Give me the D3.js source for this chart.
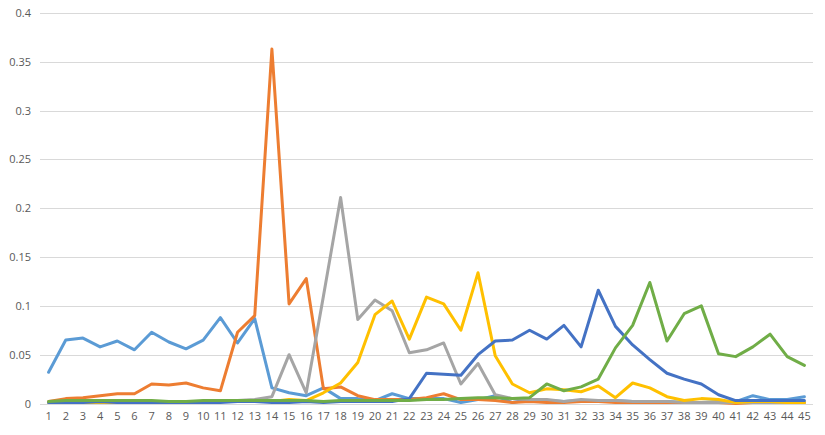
<!DOCTYPE html>
<html>
<head>
<meta charset="utf-8">
<script src="https://cdn.jsdelivr.net/npm/d3@7"></script>
<style>
  body { margin: 0; background: #fff; }
  .tick text { font-family: "Open Sans", "Liberation Sans", sans-serif; font-size: 11px; fill: #595959; }
</style>
</head>
<body>
<div id="chart"></div>
<script>
// chart size + margins
var svgWidth = 825;
var svgHeight = 435;

var margin = { top: 13, right: 12, bottom: 31.5, left: 40 };

var width = svgWidth - margin.left - margin.right;
var height = svgHeight - margin.top - margin.bottom;

// data
var categories = d3.range(1, 46);
var yTicks = [0, 0.05, 0.1, 0.15, 0.2, 0.25, 0.3, 0.35, 0.4];

var lightBlue = [0.032, 0.065, 0.067, 0.058, 0.064, 0.055, 0.073, 0.063, 0.056, 0.065,
  0.088, 0.062, 0.087, 0.016, 0.011, 0.008, 0.016, 0.005, 0.005, 0.003,
  0.010, 0.005, 0.005, 0.005, 0.001, 0.004, 0.008, 0.001, 0.004, 0.003,
  0.002, 0.003, 0.003, 0.003, 0.002, 0.002, 0.002, 0.001, 0.001, 0.002,
  0.002, 0.008, 0.004, 0.004, 0.007];
var orange = [0.002, 0.005, 0.006, 0.008, 0.010, 0.010, 0.020, 0.019, 0.021, 0.016,
  0.013, 0.073, 0.090, 0.363, 0.102, 0.128, 0.015, 0.017, 0.008, 0.004,
  0.004, 0.004, 0.006, 0.010, 0.004, 0.004, 0.003, 0.001, 0.002, 0.001,
  0.001, 0.002, 0.002, 0.001, 0.001, 0.001, 0.001, 0.001, 0.001, 0.001,
  0.000, 0.001, 0.001, 0.001, 0.001];
var gray = [0.001, 0.001, 0.001, 0.001, 0.001, 0.001, 0.001, 0.001, 0.002, 0.002,
  0.003, 0.003, 0.004, 0.007, 0.050, 0.011, 0.110, 0.211, 0.086, 0.106,
  0.095, 0.052, 0.055, 0.062, 0.020, 0.041, 0.009, 0.005, 0.004, 0.004,
  0.002, 0.004, 0.003, 0.003, 0.002, 0.002, 0.002, 0.001, 0.001, 0.001,
  0.001, 0.001, 0.001, 0.001, 0.001];
var yellow = [0.001, 0.001, 0.001, 0.001, 0.001, 0.001, 0.001, 0.002, 0.002, 0.002,
  0.002, 0.002, 0.002, 0.002, 0.004, 0.003, 0.011, 0.021, 0.042, 0.091,
  0.105, 0.066, 0.109, 0.102, 0.075, 0.134, 0.049, 0.020, 0.011, 0.015,
  0.014, 0.012, 0.018, 0.006, 0.021, 0.016, 0.007, 0.003, 0.005, 0.004,
  0.001, 0.002, 0.002, 0.001, 0.001];
var darkBlue = [0.001, 0.001, 0.001, 0.002, 0.001, 0.001, 0.001, 0.001, 0.001, 0.001,
  0.001, 0.002, 0.002, 0.001, 0.001, 0.002, 0.001, 0.002, 0.002, 0.002,
  0.002, 0.005, 0.031, 0.030, 0.029, 0.050, 0.064, 0.065, 0.075, 0.066,
  0.080, 0.058, 0.116, 0.079, 0.060, 0.045, 0.031, 0.025, 0.020, 0.009,
  0.003, 0.003, 0.003, 0.003, 0.003];
var green = [0.002, 0.003, 0.003, 0.003, 0.003, 0.003, 0.003, 0.002, 0.002, 0.003,
  0.003, 0.003, 0.003, 0.003, 0.003, 0.003, 0.002, 0.003, 0.003, 0.003,
  0.003, 0.003, 0.004, 0.004, 0.005, 0.006, 0.006, 0.005, 0.006, 0.020,
  0.013, 0.017, 0.025, 0.057, 0.080, 0.124, 0.064, 0.092, 0.100, 0.051,
  0.048, 0.058, 0.071, 0.048, 0.039];

var seriesList = [
  { name: "s1", values: lightBlue, color: "#5B9BD5" },
  { name: "s2", values: orange, color: "#ED7D31" },
  { name: "s3", values: gray, color: "#A5A5A5" },
  { name: "s4", values: yellow, color: "#FFC000" },
  { name: "s5", values: darkBlue, color: "#4472C4" },
  { name: "s6", values: green, color: "#70AD47" }
];

var svg = d3.select("#chart")
  .append("svg")
  .attr("width", svgWidth)
  .attr("height", svgHeight);

var chartGroup = svg.append("g")
  .attr("transform", `translate(${margin.left}, ${margin.top})`);

// scales
var xBandScale = d3.scaleBand()
  .domain(categories)
  .range([0, width]);

var yLinearScale = d3.scaleLinear()
  .domain([0, 0.4])
  .range([height, 0]);

// gridlines
chartGroup.append("g")
  .selectAll("line")
  .data(yTicks)
  .enter()
  .append("line")
  .attr("x1", 0)
  .attr("x2", width)
  .attr("y1", d => Math.round(yLinearScale(d)) + 0.5)
  .attr("y2", d => Math.round(yLinearScale(d)) + 0.5)
  .attr("stroke", "#D9D9D9")
  .attr("stroke-width", 1);

// axes
var bottomAxis = d3.axisBottom(xBandScale).tickSize(0).tickPadding(9);
var leftAxis = d3.axisLeft(yLinearScale).tickValues(yTicks).tickSize(0).tickPadding(9)
  .tickFormat(d => d3.format("")(+d.toFixed(2)));

chartGroup.append("g")
  .attr("transform", `translate(0, ${height})`)
  .call(bottomAxis)
  .call(g => g.select(".domain").remove());

chartGroup.append("g")
  .call(leftAxis)
  .call(g => g.select(".domain").remove());

// lines
var line = d3.line()
  .x((d, i) => xBandScale(categories[i]) + xBandScale.bandwidth() / 2)
  .y(d => yLinearScale(d));

chartGroup.selectAll(".series")
  .data(seriesList)
  .enter()
  .append("path")
  .attr("class", "series")
  .attr("d", d => line(d.values))
  .attr("fill", "none")
  .attr("stroke", d => d.color)
  .attr("stroke-width", 3)
  .attr("stroke-linejoin", "round")
  .attr("stroke-linecap", "round");
</script>
</body>
</html>
